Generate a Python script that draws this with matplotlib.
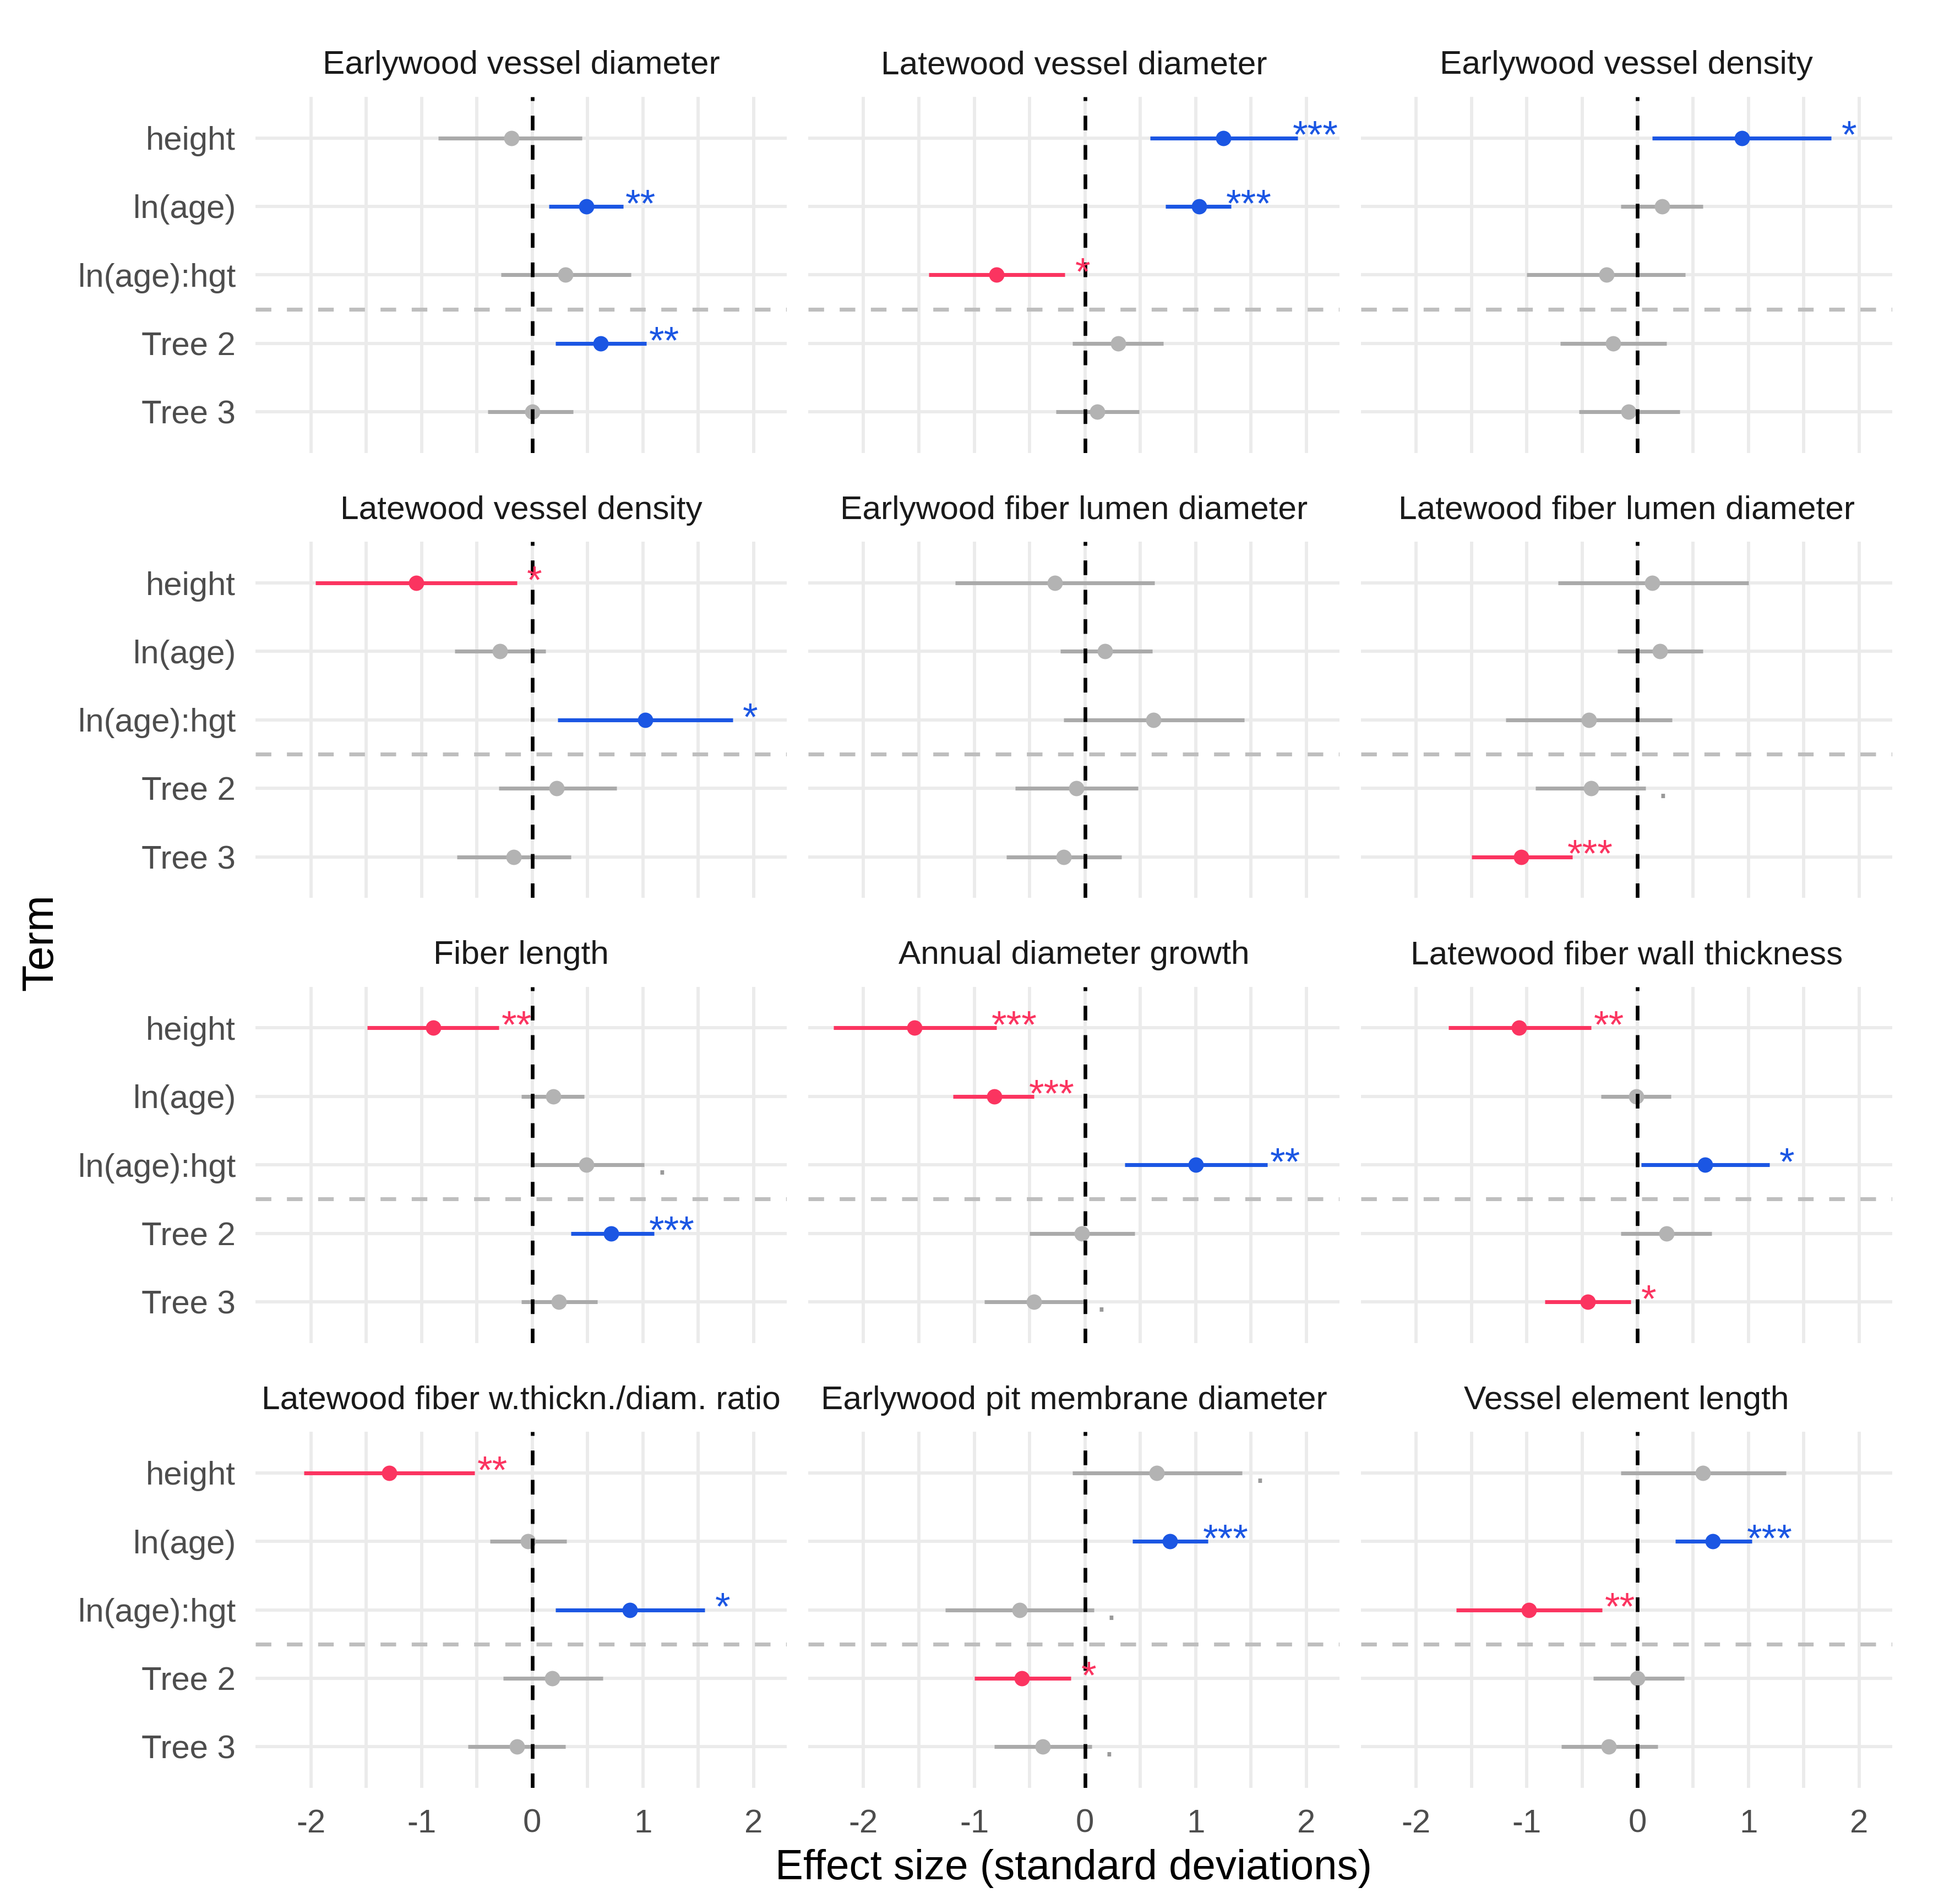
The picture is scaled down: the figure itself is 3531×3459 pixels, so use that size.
import matplotlib
matplotlib.use('Agg')
import matplotlib.pyplot as plt
import numpy as np

plt.rcParams['font.family'] = ['Liberation Sans', 'DejaVu Sans']

TERMS = ["height", "ln(age)", "ln(age):hgt", "Tree 2", "Tree 3"]

TITLES = [
    "Earlywood vessel diameter", "Latewood vessel diameter", "Earlywood vessel density",
    "Latewood vessel density", "Earlywood fiber lumen diameter", "Latewood fiber lumen diameter",
    "Fiber length", "Annual diameter growth", "Latewood fiber wall thickness",
    "Latewood fiber w.thickn./diam. ratio", "Earlywood pit membrane diameter", "Vessel element length",
]

# one row per panel, values in TERMS order
ESTIMATE = [
    [-0.19, 0.49, 0.30, 0.62, 0.00],
    [1.25, 1.03, -0.80, 0.30, 0.11],
    [0.94, 0.22, -0.28, -0.22, -0.08],
    [-1.05, -0.29, 1.02, 0.22, -0.17],
    [-0.27, 0.18, 0.62, -0.08, -0.19],
    [0.13, 0.20, -0.44, -0.42, -1.05],
    [-0.895, 0.19, 0.49, 0.71, 0.24],
    [-1.54, -0.82, 1.00, -0.03, -0.46],
    [-1.07, -0.01, 0.61, 0.26, -0.45],
    [-1.29, -0.04, 0.88, 0.18, -0.14],
    [0.65, 0.77, -0.59, -0.57, -0.38],
    [0.59, 0.68, -0.98, 0.00, -0.26],
]
LOWER = [
    [-0.85, 0.15, -0.28, 0.21, -0.40],
    [0.59, 0.73, -1.41, -0.11, -0.26],
    [0.13, -0.15, -1.00, -0.70, -0.53],
    [-1.96, -0.70, 0.23, -0.30, -0.68],
    [-1.17, -0.22, -0.19, -0.63, -0.71],
    [-0.72, -0.18, -1.19, -0.92, -1.50],
    [-1.49, -0.10, 0.01, 0.35, -0.10],
    [-2.27, -1.19, 0.36, -0.50, -0.91],
    [-1.71, -0.33, 0.03, -0.15, -0.84],
    [-2.06, -0.38, 0.21, -0.26, -0.58],
    [-0.11, 0.43, -1.26, -1.00, -0.82],
    [-0.15, 0.34, -1.64, -0.40, -0.69],
]
UPPER = [
    [0.45, 0.82, 0.89, 1.03, 0.37],
    [1.92, 1.32, -0.18, 0.71, 0.49],
    [1.75, 0.59, 0.43, 0.26, 0.38],
    [-0.14, 0.12, 1.81, 0.76, 0.35],
    [0.63, 0.61, 1.44, 0.48, 0.33],
    [1.00, 0.59, 0.31, 0.07, -0.59],
    [-0.30, 0.47, 1.01, 1.10, 0.59],
    [-0.80, -0.46, 1.65, 0.45, -0.01],
    [-0.42, 0.30, 1.19, 0.67, -0.06],
    [-0.52, 0.31, 1.56, 0.64, 0.30],
    [1.42, 1.11, 0.08, -0.125, 0.06],
    [1.34, 1.03, -0.32, 0.42, 0.18],
]
SIGNIF = [
    ["", "**", "", "**", ""],
    ["***", "***", "*", "", ""],
    ["*", "", "", "", ""],
    ["*", "", "*", "", ""],
    ["", "", "", "", ""],
    ["", "", "", ".", "***"],
    ["**", "", ".", "***", ""],
    ["***", "***", "**", "", "."],
    ["**", "", "*", "", "*"],
    ["**", "", "*", "", ""],
    [".", "***", ".", "*", "."],
    ["", "***", "**", "", ""],
]

BLUE = '#1B56E3'
RED = '#FB3460'
GREY_LINE = '#AAAAAA'
GREY_PT = '#B3B3B3'
GRID = '#EBEBEB'

W, H = 3531, 3459
fig, axes = plt.subplots(4, 3, figsize=(W / 300, H / 300), dpi=300)
fig.subplots_adjust(left=464 / W, right=3437 / W, top=1 - 176 / H, bottom=1 - 3248 / H,
                    wspace=0.04, hspace=0.25)

ypos = np.arange(len(TERMS), 0, -1)

for i, ax in enumerate(axes.flat):
    est = np.array(ESTIMATE[i])
    lo = np.array(LOWER[i])
    hi = np.array(UPPER[i])

    for s in ax.spines.values():
        s.set_visible(False)
    ax.set_xlim(-2.5, 2.3)
    ax.set_ylim(0.4, 5.6)
    ax.set_xticks([-2, -1, 0, 1, 2])
    ax.set_xticks([-1.5, -0.5, 0.5, 1.5], minor=True)
    ax.set_yticks(ypos)
    ax.grid(which='both', axis='x', color=GRID, lw=1.4)
    ax.grid(which='major', axis='y', color=GRID, lw=1.4)
    ax.set_axisbelow(True)
    ax.tick_params(which='both', length=0, labelsize=14.4, labelcolor='#4D4D4D')
    ax.tick_params(axis='y', pad=8.6)
    ax.tick_params(axis='x', pad=9)

    if i % 3 == 0:
        ax.set_yticklabels(TERMS)
    else:
        ax.set_yticklabels([])
    if i < 9:
        ax.set_xticklabels([])
    else:
        ax.set_xticklabels(['-2', '-1', '0', '1', '2'])

    ax.axhline(2.5, color='#BEBEBE', lw=1.7, ls=(0, (4, 4)), zorder=1.5)

    for k in range(len(TERMS)):
        lab = SIGNIF[i][k]
        if '*' in lab:
            c_line = c_pt = BLUE if est[k] > 0 else RED
        else:
            c_line, c_pt = GREY_LINE, GREY_PT
        ax.hlines(ypos[k], lo[k], hi[k], color=c_line, lw=1.7, zorder=3)
        ax.plot(est[k], ypos[k], 'o', ms=6.7, color=c_pt, mec='none', zorder=3.5)
        if lab:
            txt_c = c_pt if '*' in lab else '#9A9A9A'
            ax.text(hi[k] + 0.16, ypos[k], lab, color=txt_c, fontsize=17,
                    ha='center', va='center', zorder=5)

    ax.axvline(0, color='black', lw=1.6, ls=(0, (4, 4)), zorder=4)
    ax.set_title(TITLES[i], fontsize=14.5, color='#1A1A1A', pad=10)

xc = (464 + 3437) / 2 / W
fig.text(xc, 1 - 3394 / H, "Effect size (standard deviations)", ha='center', va='center',
         fontsize=18.3)
fig.text(75 / W, 1 - 1712 / H, "Term", ha='center', va='center', rotation=90, fontsize=19)

fig.savefig("out.png", dpi=300)
